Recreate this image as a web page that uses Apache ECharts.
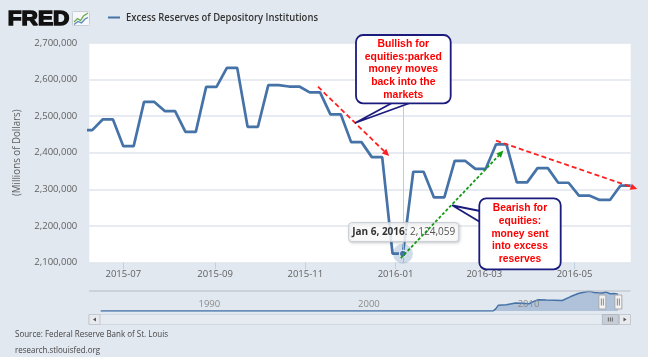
<!DOCTYPE html>
<html><head><meta charset="utf-8">
<script src="https://cdn.jsdelivr.net/npm/echarts@6/dist/echarts.min.js"></script>
<style>html,body{margin:0;padding:0;background:#e2e8f0;}#c{width:648px;height:357px;}</style>
</head><body><div id="c"></div>
<script>
// ---------------- data ----------------
const seriesName = 'Excess Reserves of Depository Institutions';
const dates = ['2015-06-03','2015-06-10','2015-06-17','2015-06-24','2015-07-01','2015-07-08','2015-07-15','2015-07-22','2015-07-29','2015-08-05','2015-08-12','2015-08-19','2015-08-26','2015-09-02','2015-09-09','2015-09-16','2015-09-23','2015-09-30','2015-10-07','2015-10-14','2015-10-21','2015-10-28','2015-11-04','2015-11-11','2015-11-18','2015-11-25','2015-12-02','2015-12-09','2015-12-16','2015-12-23','2015-12-30','2016-01-06','2016-01-13','2016-01-20','2016-01-27','2016-02-03','2016-02-10','2016-02-17','2016-02-24','2016-03-02','2016-03-09','2016-03-16','2016-03-23','2016-03-30','2016-04-06','2016-04-13','2016-04-20','2016-04-27','2016-05-04','2016-05-11','2016-05-18','2016-05-25','2016-06-01','2016-06-08'];
const values = [2462000,2462000,2491000,2491000,2418000,2418000,2539000,2539000,2514000,2514000,2457000,2457000,2580000,2580000,2632000,2632000,2471000,2471000,2585000,2585000,2581000,2581000,2565000,2565000,2505000,2505000,2429000,2429000,2388000,2388000,2124059,2124059,2348000,2348000,2278000,2278000,2378000,2378000,2356000,2356000,2423000,2423000,2319000,2319000,2358000,2358000,2318000,2318000,2283000,2283000,2271000,2271000,2310000,2310000];
const tickLabels = ['2015-07','2015-09','2015-11','2016-01','2016-03','2016-05'];
const xRange = ['2015-06-08','2016-06-08'];
const yMin = 2100000, yMax = 2700000, yStep = 100000;
const tooltipDate = '2016-01-06';
// navigator (full history, millions of dollars)
const navMonths = ['1984-01','1990-01','1995-01','2001-08','2001-09','2001-10','2008-08','2008-10','2008-12','2009-06','2010-01','2010-06','2010-11','2011-03','2011-06','2011-12','2012-06','2012-12','2013-06','2013-12','2014-06','2014-09','2014-12','2015-03','2015-06','2015-09','2015-12','2016-01','2016-03','2016-06'];
const navValues = [1500,1200,1400,1500,19000,2000,2000,300000,800000,850000,1100000,1050000,1000000,1350000,1550000,1500000,1480000,1450000,1950000,2400000,2650000,2700000,2550000,2500000,2480000,2600000,2380000,2150000,2400000,2300000];
const navTickLabels = ['1990','2000','2010'];
const navRange = [1984, 2016.45];
// annotations (data space)
const arrows = [
  {from: ['2015-11-09T14:00', 2580500], to: ['2015-12-27T17:00', 2391000], color: '#ff1f1f', dash: [5, 3]},
  {from: ['2016-01-04T14:00', 2112000], to: ['2016-03-14T00:00', 2406000], color: '#149a14', dash: [3, 2]},
  {from: ['2016-03-09T00:00', 2433000], to: ['2016-06-12T12:00', 2301000], color: '#ff1f1f', dash: [5, 3]}
];
const notes = [
  {lines: ['Bullish for', 'equities:parked', 'money moves', 'back into the', 'markets'], fitLine: 1, fitW: 77,
   box: [356, 35, 94.7, 68.3], cx: 403.3, cy: 69.3, lh: 12.6, tip: ['2015-12-05T00:00', 2482000], base: [[392, 103], [410, 103]]},
  {lines: ['Bearish for', 'equities:', 'money sent', 'into excess', 'reserves'], fitLine: 0, fitW: 54.3,
   box: [479.3, 198.3, 81.4, 71], cx: 520, cy: 233.6, lh: 12.7, tip: ['2016-02-08T14:00', 2255800], base: [[480, 211], [480, 222]]}
];

// ---------------- helpers ----------------
const MONTHS = ['Jan','Feb','Mar','Apr','May','Jun','Jul','Aug','Sep','Oct','Nov','Dec'];
const parseDay = s => { const p = s.split('-').map(Number); return new Date(p[0], p[1] - 1, p[2] || 1).getTime(); };
const parseDT = s => { const [d, tm] = s.split('T'); const p = d.split('-').map(Number); const q = (tm || '0:0').split(':').map(Number); return new Date(p[0], p[1] - 1, p[2], q[0], q[1]).getTime(); };
const pad = n => (n < 10 ? '0' : '') + n;
const fmtMonth = v => { const d = new Date(v); return d.getFullYear() + '-' + pad(d.getMonth() + 1); };
const yearFrac = ts => { const d = new Date(ts), y = d.getFullYear(); const s = new Date(y, 0, 1).getTime(), e = new Date(y + 1, 0, 1).getTime(); return y + (ts - s) / (e - s); };
const mctx = document.createElement('canvas').getContext('2d');
const measure = (t, size, weight, fam) => { mctx.font = weight + ' ' + size + 'px ' + fam; return mctx.measureText(t).width; };

const BG = '#e2e8f0', BLUE = '#4572a7';
const OS = "'Open Sans', 'DejaVu Sans', sans-serif";
const AR = "'Liberation Sans', Arial, sans-serif";
const NOTE_FS = 11.5;
const tickTs = tickLabels.map(s => parseDay(s + '-01'));
const tIdx = dates.indexOf(tooltipDate);
const tTs = parseDay(tooltipDate), tVal = values[tIdx];

const chart = echarts.init(document.getElementById('c'));
chart.setOption({
  animation: false,
  backgroundColor: BG,
  grid: [
    {left: 89.3, top: 43, width: 541.4, height: 219.5, show: true, backgroundColor: '#ffffff', borderWidth: 0},
    {left: 100.7, top: 291, width: 517.9, height: 20, show: false}
  ],
  xAxis: [
    {type: 'value', gridIndex: 0, min: parseDay(xRange[0]), max: parseDay(xRange[1]),
     axisLine: {show: false}, splitLine: {show: false},
     axisTick: {show: true, customValues: tickTs, length: 6.5, lineStyle: {color: '#c0d0e0', width: 1}},
     axisLabel: {customValues: tickTs, formatter: v => fmtMonth(v), color: '#606060', fontSize: 9.5, fontFamily: OS, margin: 7}},
    {type: 'value', gridIndex: 1, min: navRange[0], max: navRange[1], show: false}
  ],
  yAxis: [
    {type: 'value', gridIndex: 0, min: yMin, max: yMax, interval: yStep,
     axisLine: {show: false}, axisTick: {show: false},
     splitLine: {lineStyle: {color: '#e0e6ee', width: 1.5}},
     axisLabel: {formatter: v => v.toLocaleString('en-US'), color: '#606060', fontSize: 9.5, fontFamily: OS, margin: 12}},
    {type: 'value', gridIndex: 1, min: 0, max: 2750000, show: false}
  ],
  series: [
    {type: 'line', name: seriesName, xAxisIndex: 0, yAxisIndex: 0, clip: true, symbol: 'none',
     data: dates.map((d, i) => [parseDay(d), values[i]]),
     lineStyle: {color: BLUE, width: 2.7},
     markLine: {silent: true, symbol: ['none', 'none'], label: {show: false},
       lineStyle: {color: '#c8ccd2', width: 1, type: 'solid'}, data: [{xAxis: tTs}]},
     markPoint: {silent: true, label: {show: false}, data: [
       {coord: [tTs, tVal], symbol: 'circle', symbolSize: 20, itemStyle: {color: 'rgba(69,114,167,0.25)'}},
       {coord: [tTs, tVal], symbol: 'circle', symbolSize: 7, itemStyle: {color: BLUE, borderColor: '#fff', borderWidth: 1}}
     ]}},
    {type: 'line', xAxisIndex: 1, yAxisIndex: 1, symbol: 'none', silent: true,
     data: navMonths.map((m, i) => { const p = m.split('-').map(Number); return [p[0] + (p[1] - 1) / 12, navValues[i]]; }),
     lineStyle: {color: BLUE, width: 1.5}, areaStyle: {color: 'rgba(69,114,167,0.45)', origin: 'start'}}
  ]
});

// ---------------- overlays ----------------
const px = (x, v) => chart.convertToPixel({gridIndex: 0}, [typeof x === 'string' ? parseDT(x) : x, v]);
const npx = yr => chart.convertToPixel({gridIndex: 1}, [yr, 0])[0];
const g = [];
const Z = 100;
function fitText(text, x, y, size, weight, fam, fill, width, align, extra) {
  const sx = width ? width / measure(text, size, weight, fam) : 1;
  return Object.assign({type: 'text', z: Z, x: x, y: y, scaleX: sx, silent: true,
    style: {text: text, fontSize: size, fontWeight: weight, fontFamily: fam, fill: fill, align: align || 'left', verticalAlign: 'middle'}}, extra || {});
}
// header: FRED logo + legend
const logo = fitText('FRED', 7.8, 19.2, 20, 'bold', AR, '#111111', 61.5);
logo.style.stroke = '#111111'; logo.style.lineWidth = 1.4;
g.push(logo);
g.push({type: 'rect', z: Z, shape: {x: 72.5, y: 11.5, width: 17, height: 14, r: 1}, style: {fill: '#f6f8fa', stroke: '#c9cfd7', lineWidth: 1}});
g.push({type: 'polyline', z: Z, shape: {points: [[74, 22], [77.5, 18.5], [80.5, 20.5], [83.5, 16], [88, 13]]}, style: {stroke: '#6aab4a', lineWidth: 1.3, fill: null}});
g.push({type: 'polyline', z: Z, shape: {points: [[74, 24.5], [78, 21.5], [81.5, 23], [85, 19], [88, 17.5]]}, style: {stroke: '#5a86bd', lineWidth: 1.3, fill: null}});
g.push({type: 'line', z: Z, shape: {x1: 108, y1: 17.5, x2: 120, y2: 17.5}, style: {stroke: BLUE, lineWidth: 2}});
g.push(fitText(seriesName, 126, 17.5, 11, '600', OS, '#333333', 192));
// y axis title
g.push(fitText('(Millions of Dollars)', 16.7, 152.75, 10, 'normal', OS, '#606060', 86.7, 'center', {rotation: Math.PI / 2}));
// source
g.push(fitText('Source: Federal Reserve Bank of St. Louis', 15, 335, 8.5, 'normal', OS, '#444444', 153));
g.push(fitText('research.stlouisfed.org', 15, 350.7, 8.5, 'normal', OS, '#444444', 85));
// navigator
g.push({type: 'line', z: Z, shape: {x1: 89, y1: 291, x2: 630.5, y2: 291}, style: {stroke: '#b8bcc4', lineWidth: 1}});
navTickLabels.forEach(l => g.push(fitText(l, npx(+l) + 2, 304.6, 9.5, 'normal', OS, '#8a8a8a', 0)));
const h1 = npx(yearFrac(parseDay(xRange[0]))), h2 = npx(yearFrac(parseDay(xRange[1])));
// scrollbar
g.push({type: 'rect', z: Z, shape: {x: 89, y: 314.5, width: 541, height: 10}, style: {fill: 'rgba(255,255,255,0.15)', stroke: '#d3d9e1', lineWidth: 1}});
g.push({type: 'rect', z: Z, shape: {x: h1, y: 314.5, width: h2 - h1, height: 10}, style: {fill: '#c7ced6', stroke: '#b3bac3', lineWidth: 1}});
[-2, 0, 2].forEach(d => g.push({type: 'line', z: Z, shape: {x1: (h1 + h2) / 2 + d, y1: 317.5, x2: (h1 + h2) / 2 + d, y2: 321.5}, style: {stroke: '#666', lineWidth: 1}}));
[[89, 1], [619.5, -1]].forEach(([bx, dir]) => {
  g.push({type: 'rect', z: Z, shape: {x: bx, y: 314.5, width: 11, height: 10}, style: {fill: '#e8eaed', stroke: '#c3c9d1', lineWidth: 1}});
  const cx = bx + 5.5;
  g.push({type: 'polygon', z: Z, shape: {points: [[cx - 1.5 * dir, 319.5], [cx + 1.5 * dir, 317.5], [cx + 1.5 * dir, 321.5]]}, style: {fill: '#555'}});
});
[h1, h2].forEach(hx => {
  g.push({type: 'rect', z: Z, shape: {x: hx - 3.5, y: 295, width: 7, height: 14}, style: {fill: '#f3f3f3', stroke: '#a8a8a8', lineWidth: 1}});
  [-1, 1].forEach(d => g.push({type: 'line', z: Z, shape: {x1: hx + d, y1: 298.5, x2: hx + d, y2: 305.5}, style: {stroke: '#8a8a8a', lineWidth: 1}}));
});
// tooltip
const tp = px(tTs, tVal);
const d0 = new Date(tTs);
const tDate = MONTHS[d0.getMonth()] + ' ' + d0.getDate() + ', ' + d0.getFullYear();
const tValTxt = ': ' + tVal.toLocaleString('en-US');
const tw = measure(tDate, 10, 'bold', OS) + measure(tValTxt, 10, 'normal', OS);
const tcx = tp[0] + 0.8, tcy = tp[1] - 21.5;
g.push({type: 'rect', z: Z, shape: {x: tcx - tw / 2 - 3.5, y: tcy - 9.5, width: tw + 7, height: 19, r: 3},
  style: {fill: 'rgba(255,255,255,0.85)', stroke: '#c3cad4', lineWidth: 1, shadowBlur: 3, shadowOffsetX: 1, shadowOffsetY: 1, shadowColor: 'rgba(0,0,0,0.18)'}});
g.push({type: 'text', z: Z, x: tcx, y: tcy, silent: true, style: {text: '{b|' + tDate + '}{v|' + tValTxt + '}', align: 'center', verticalAlign: 'middle',
  rich: {b: {fontSize: 10, fontWeight: 'bold', fontFamily: OS, fill: '#333'}, v: {fontSize: 10, fontFamily: OS, fill: '#555'}}}});
// arrows
arrows.forEach(a => {
  const p0 = px(a.from[0], a.from[1]), p1 = px(a.to[0], a.to[1]);
  const dx = p1[0] - p0[0], dy = p1[1] - p0[1], L = Math.hypot(dx, dy), ux = dx / L, uy = dy / L;
  const head = 7, w = 3.2, bx = p1[0] - ux * head, by = p1[1] - uy * head;
  g.push({type: 'line', z: Z, shape: {x1: p0[0], y1: p0[1], x2: bx, y2: by}, style: {stroke: a.color, lineWidth: 1.8, lineDash: a.dash}});
  g.push({type: 'polygon', z: Z, shape: {points: [[p1[0], p1[1]], [bx - uy * w, by + ux * w], [bx + uy * w, by - ux * w]]}, style: {fill: a.color}});
});
// callouts
notes.forEach(n => {
  const tip = px(n.tip[0], n.tip[1]);
  g.push({type: 'polygon', z: Z, shape: {points: [tip, n.base[0], n.base[1]]}, style: {fill: '#fff', stroke: '#1b1b7e', lineWidth: 1.8, lineJoin: 'round'}});
  g.push({type: 'rect', z: Z, shape: {x: n.box[0], y: n.box[1], width: n.box[2], height: n.box[3], r: 7}, style: {fill: '#fff', stroke: '#1b1b7e', lineWidth: 1.8}});
  const sx = n.fitW / measure(n.lines[n.fitLine], NOTE_FS, 'bold', AR);
  g.push({type: 'text', z: Z, x: n.cx, y: n.cy, scaleX: sx, silent: true,
    style: {text: n.lines.join('\n'), fontSize: NOTE_FS, fontWeight: 'bold', fontFamily: AR, fill: '#ff0000', align: 'center', verticalAlign: 'middle', lineHeight: n.lh}});
});
chart.setOption({graphic: {elements: g}});
</script></body></html>
